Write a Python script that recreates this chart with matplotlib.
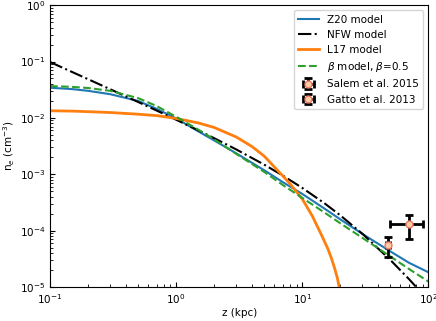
import numpy as np
import matplotlib
matplotlib.use('Agg')
import matplotlib.pyplot as plt

# values (z in kpc, log10 of n_e in cm^-3)
z = [0.1, 0.15, 0.2, 0.3, 0.5, 0.7, 1, 1.5, 2, 3, 5, 7, 10, 15, 20, 30, 50, 70, 100]
log_z20 = [-1.465, -1.49, -1.52, -1.58, -1.70, -1.84, -2.01, -2.24, -2.40, -2.63, -2.93,
           -3.14, -3.35, -3.61, -3.80, -4.06, -4.37, -4.57, -4.74]
log_nfw = [-1.009, -1.187, -1.313, -1.492, -1.719, -1.870, -2.033, -2.222, -2.360, -2.561,
           -2.831, -3.023, -3.243, -3.516, -3.729, -4.058, -4.523, -4.859, -5.237]
log_beta = [-1.436, -1.45, -1.47, -1.52, -1.65, -1.79, -1.98, -2.21, -2.38, -2.64, -2.96,
            -3.19, -3.42, -3.68, -3.87, -4.13, -4.46, -4.68, -4.905]

z_l17 = [0.1, 0.15, 0.2, 0.3, 0.5, 0.7, 1, 1.5, 2, 3, 4, 5, 6, 7, 8, 10, 12, 14, 16,
         17, 18, 19, 20]
log_l17 = [-1.874, -1.88, -1.89, -1.905, -1.935, -1.96, -2.01, -2.09, -2.17, -2.34, -2.51,
           -2.68, -2.87, -3.03, -3.17, -3.44, -3.74, -4.05, -4.33, -4.49, -4.66, -4.85,
           -5.10]

# observations
salem_z, salem_n = [48], [5.5e-5]
salem_zerr, salem_nerr = [2], [2.1e-5]
gatto_z, gatto_n = [70], [1.3e-4]
gatto_zerr, gatto_nerr = [20], [6e-5]

plt.rcParams['font.size'] = 7.5
fig = plt.figure(figsize=(4.36, 3.21), dpi=100)
ax = fig.add_axes([0.1147, 0.106, 0.868, 0.878])

ax.plot(z, 10 ** np.array(log_z20), color='C0', lw=1.5, label='Z20 model')
ax.plot(z, 10 ** np.array(log_nfw), color='k', lw=1.5, ls='-.', label='NFW model')
ax.plot(z_l17, 10 ** np.array(log_l17), color='C1', lw=2, label='L17 model')
ax.plot(z, 10 ** np.array(log_beta), color='C2', lw=1.5, ls='--',
        label=r'$\beta$ model, $\beta$=0.5')

ax.errorbar(salem_z, salem_n, xerr=salem_zerr, yerr=salem_nerr, fmt='o', ms=5,
            mfc='#ffcba4', mec='#ec7a68', ecolor='k', elinewidth=2, capsize=3,
            capthick=2, label='Salem et al. 2015', zorder=5)
ax.errorbar(gatto_z, gatto_n, xerr=gatto_zerr, yerr=gatto_nerr, fmt='o', ms=5,
            mfc='#ffcba4', mec='#ec7a68', ecolor='k', elinewidth=2, capsize=3,
            capthick=2, label='Gatto et al. 2013', zorder=5)

ax.set_xscale('log')
ax.set_yscale('log')
ax.set_xlim(0.1, 100)
ax.set_ylim(1e-5, 1)
ax.tick_params(which='both', direction='in')
ax.set_xlabel('z (kpc)', labelpad=2)
ax.set_ylabel(r'n$_e$ (cm$^{-3}$)', labelpad=2)
ax.legend(loc='upper right')

fig.savefig('out.png', dpi=100)
